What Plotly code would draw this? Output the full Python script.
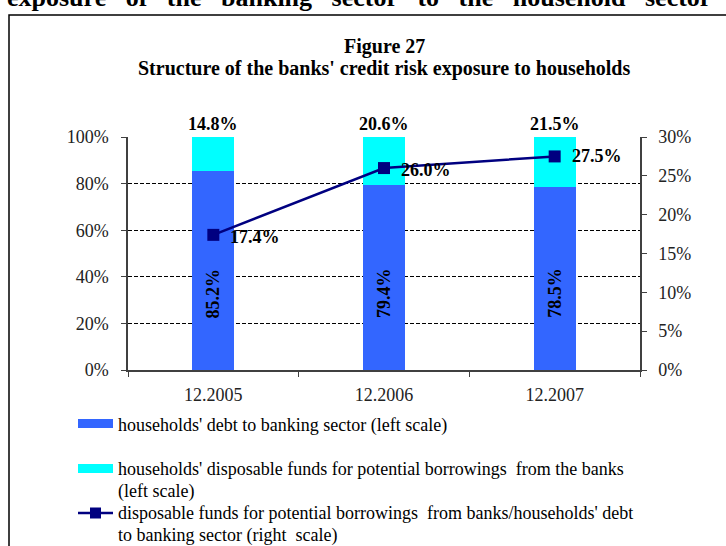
import plotly.graph_objects as go

categories = ["12.2005", "12.2006", "12.2007"]
debt = [85.2, 79.4, 78.5]
disposable = [14.8, 20.6, 21.5]
ratio = [17.4, 26.0, 27.5]

left_ticks = [0, 20, 40, 60, 80, 100]
right_ticks = [0, 5, 10, 15, 20, 25, 30]

BLUE = "#3366FF"
CYAN = "#00FFFF"
NAVY = "#000080"
FONT = "Liberation Serif"

W, H = 726, 546
L, R, T, B = 128, 86, 137, 176
PW, PH = W - L - R, H - T - B


def px(x):
    return (x - L) / PW


def py(y):
    return (H - B - y) / PH


fig = go.Figure()
fig.add_trace(go.Bar(x=categories, y=debt, marker=dict(color=BLUE, line=dict(width=0)),
                     name="households' debt to banking sector (left scale)", yaxis="y"))
fig.add_trace(go.Bar(x=categories, y=disposable, marker=dict(color=CYAN, line=dict(width=0)),
                     name="households' disposable funds", yaxis="y"))
fig.add_trace(go.Scatter(x=categories, y=ratio, yaxis="y2", mode="lines+markers",
                         line=dict(color=NAVY, width=2.5),
                         marker=dict(symbol="square", size=12, color=NAVY),
                         name="ratio"))

lab_font = dict(family=FONT, size=18, color="black")
ann = []
# bar inside labels (rotated)
for i, v in enumerate(debt):
    ann.append(dict(x=i, y=33, xref="x", yref="y", text=f"<b>{v:.1f}%</b>", textangle=-90,
                    xanchor="center", yanchor="middle", showarrow=False, font=lab_font))
# top labels
for i, v in enumerate(disposable):
    ann.append(dict(x=i, y=100, xref="x", yref="y", text=f"<b>{v:.1f}%</b>", yanchor="bottom",
                    xanchor="center", yshift=1, showarrow=False, font=lab_font))
# line labels
shifts = [-2, -2, 0]
for i, (v, s) in enumerate(zip(ratio, shifts)):
    ann.append(dict(x=i, y=v, xref="x", yref="y2", text=f"<b>{v:.1f}%</b>", xanchor="left",
                    yanchor="middle", xshift=15, yshift=s, showarrow=False, font=lab_font))
# title
ttl_font = dict(family=FONT, size=20, color="black")
ann.append(dict(x=px(384), y=py(47), xref="paper", yref="paper", text="<b>Figure 27</b>",
                xanchor="center", yanchor="middle", showarrow=False, font=ttl_font))
ann.append(dict(x=px(384), y=py(68), xref="paper", yref="paper",
                text="<b>Structure of the banks' credit risk exposure to households</b>",
                xanchor="center", yanchor="middle", showarrow=False, font=ttl_font))
# header cut-off text from document
sp = "&nbsp;" * 3
hdr = sp.join(["exposure", "of", "the", "banking", "sector", "to", "the", "household", "sector"])
ann.append(dict(x=px(5), y=py(14), xref="paper", yref="paper", yanchor="bottom", xanchor="left",
                text=f"<b>{hdr}</b>",
                showarrow=False, font=dict(family=FONT, size=26, color="black")))

# legend texts
leg_font = dict(family=FONT, size=18, color="black")
leg_rows = [
    (425, "households' debt to banking sector (left scale)"),
    (469, "households' disposable funds for potential borrowings  from the banks"),
    (491, "(left scale)"),
    (513, "disposable funds for potential borrowings  from banks/households' debt"),
    (535, "to banking sector (right  scale)"),
]
for y, t in leg_rows:
    ann.append(dict(x=px(116), y=py(y), xref="paper", yref="paper", xanchor="left",
                    yanchor="middle", text=t, showarrow=False, font=leg_font))

shapes = [
    dict(type="rect", xref="paper", yref="paper", x0=px(9), x1=px(760), y0=py(600), y1=py(15),
         line=dict(color="black", width=1.5), layer="below"),
    dict(type="rect", xref="paper", yref="paper", x0=px(78), x1=px(113), y0=py(428), y1=py(419),
         fillcolor=BLUE, line=dict(width=0)),
    dict(type="rect", xref="paper", yref="paper", x0=px(78), x1=px(113), y0=py(473), y1=py(464),
         fillcolor=CYAN, line=dict(width=0)),
    dict(type="line", xref="paper", yref="paper", x0=px(78), x1=px(113), y0=py(513), y1=py(513),
         line=dict(color=NAVY, width=2.5)),
    dict(type="rect", xref="paper", yref="paper", x0=px(90), x1=px(101), y0=py(518.5), y1=py(507.5),
         fillcolor=NAVY, line=dict(width=0)),
]

axis_font = dict(family=FONT, size=18, color="#222222")
fig.update_layout(
    width=W, height=H,
    margin=dict(l=L, r=R, t=T, b=B, autoexpand=False),
    paper_bgcolor="white", plot_bgcolor="white",
    barmode="stack", bargap=0.755,
    showlegend=False,
    annotations=ann, shapes=shapes,
    xaxis=dict(type="category", range=[-0.5, 2.5], showline=True, linecolor="#404040",
               linewidth=1.5, ticks="outside", tickson="boundaries", ticklen=5,
               tickcolor="#404040", tickfont=axis_font, showgrid=False, tickangle=0,
               automargin=False, ticklabelstandoff=8),
    yaxis=dict(range=[0, 100], tickvals=left_ticks, ticktext=[f"{v}%" for v in left_ticks],
               showline=True, linecolor="#404040", linewidth=1.5, ticks="outside", ticklen=5,
               tickcolor="#404040", tickfont=axis_font, showgrid=True, gridcolor="black",
               gridwidth=1, griddash="4px,2px", zeroline=False, automargin=False,
               ticklabelstandoff=9),
    yaxis2=dict(range=[0, 30], tickvals=right_ticks, ticktext=[f"{v}%" for v in right_ticks],
                overlaying="y", side="right", showline=True, linecolor="#404040", linewidth=1.5,
                ticks="outside", ticklen=5, tickcolor="#404040", tickfont=axis_font,
                showgrid=False, zeroline=False, automargin=False, ticklabelstandoff=8),
)

fig.write_html("out.html", config={"displayModeBar": False},
               post_script="document.body.style.margin='0';")
